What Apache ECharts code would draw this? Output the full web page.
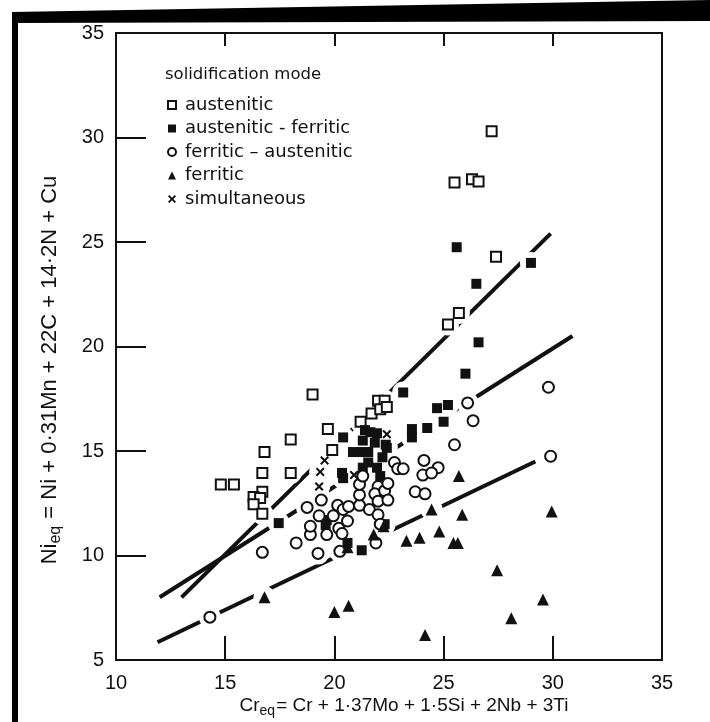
<!DOCTYPE html>
<html>
<head>
<meta charset="utf-8">
<script src="https://cdn.jsdelivr.net/npm/echarts@6/dist/echarts.min.js"></script>
<style>
  html, body { margin: 0; padding: 0; background: #fff; }
  #chart { width: 710px; height: 722px; }
</style>
</head>
<body>
<div id="chart"></div>
<script>
// Schaeffler-type constitution plot: Cr/Ni equivalents grouped by solidification mode
const xTicks = [10, 15, 20, 25, 30, 35];
const yTicks = [5, 10, 15, 20, 25, 30, 35];

const austenitic = [
  [14.8,13.4],[15.4,13.4],[16.8,14.95],[16.7,13.95],[18.0,15.55],[18.0,13.95],
  [16.7,13.05],[16.3,12.8],[16.6,12.75],[16.3,12.45],[16.7,12.0],[19.0,17.7],
  [19.7,16.05],[19.9,15.05],[21.2,16.4],[21.7,16.8],[22.0,17.4],[22.3,17.4],
  [22.1,17.0],[22.4,17.1],[27.2,30.3],[25.5,27.85],[26.3,28.0],[26.6,27.9],
  [27.4,24.3],[25.7,21.6],[25.2,21.05]
];
const austeniticFerritic = [
  [25.6,24.75],[29.0,24.0],[26.5,23.0],[26.6,20.2],[26.0,18.7],[23.15,17.8],
  [24.7,17.05],[25.2,17.2],[25.0,16.4],[24.25,16.1],[23.55,16.05],[23.55,15.65],
  [22.35,15.3],[17.45,11.55],[20.4,15.65],[21.4,16.0],[21.65,15.9],[21.95,15.85],
  [21.3,15.5],[20.85,14.95],[21.2,14.95],[21.55,14.95],[21.85,15.4],[22.4,15.15],
  [22.2,14.7],[20.35,13.95],[20.4,13.7],[21.3,14.2],[21.55,14.45],[21.95,14.2],
  [22.1,13.8],[19.65,11.7],[19.6,11.45],[20.6,10.6],[21.25,10.25],[22.3,11.5]
];
const ferriticAustenitic = [
  [14.3,7.05],[16.7,10.15],[18.25,10.6],[19.25,10.1],[18.9,11.0],[18.75,12.3],
  [18.9,11.4],[19.3,11.9],[19.4,12.65],[19.65,11.0],[19.95,11.9],[20.15,12.4],
  [20.2,11.3],[20.4,12.2],[20.65,12.35],[20.6,11.65],[20.35,11.05],[20.25,10.2],
  [21.15,12.4],[21.6,12.2],[21.15,12.9],[21.15,13.4],[21.3,13.8],[22.0,13.3],
  [21.85,12.95],[22.0,12.6],[22.3,13.1],[22.45,12.65],[22.75,14.45],[22.9,14.15],
  [24.1,14.55],[24.05,13.85],[23.7,13.05],[24.15,12.95],[22.0,11.95],[22.1,11.5],
  [21.9,10.6],[26.1,17.3],[26.35,16.45],[25.5,15.3],[29.8,18.05],[29.9,14.75],
  [24.75,14.2],[24.45,13.95],[23.15,14.15],[22.45,13.45]
];
const ferritic = [
  [16.8,8.0],[25.7,13.8],[24.45,12.2],[25.85,11.95],[24.8,11.15],[23.3,10.7],
  [23.9,10.85],[25.45,10.6],[25.65,10.6],[27.45,9.3],[29.55,7.9],[28.1,7.0],
  [24.15,6.2],[29.95,12.1],[20.0,7.3],[20.65,7.6],[20.6,10.4],[21.8,11.0],[22.25,11.4]
];
const simultaneous = [
  [19.55,14.55],[19.35,14.0],[19.3,13.3],[20.9,13.85],[22.4,15.8]
];

// Boundary lines between the modes (end points)
const boundaryUpper = [[13.0,8.0],[29.9,25.4]];
const boundaryMiddle = [[12.0,8.0],[30.9,20.5]];
const boundaryLower = [[11.9,5.85],[29.2,14.5]];

const modeNames = ['austenitic', 'austenitic - ferritic', 'ferritic – austenitic', 'ferritic', 'simultaneous'];
const legendTitle = 'solidification mode';
const xTitle = '{n|Cr}{s|eq}{n|= Cr + 1·37Mo + 1·5Si + 2Nb + 3Ti}';
const yTitle = '{n|Ni}{s|eq}{n| = Ni + 0·31Mn + 22C + 14·2N + Cu}';

const INK = '#111111';
const FONT = '"Liberation Sans", "DejaVu Sans", sans-serif';
const LEGEND_FONT = '"DejaVu Sans", "Liberation Sans", sans-serif';
const CROSS = 'path://M0,1.6L1.6,0L5,3.4L8.4,0L10,1.6L6.6,5L10,8.4L8.4,10L5,6.6L1.6,10L0,8.4L3.4,5Z';

const openStyle = { color: '#ffffff', borderColor: INK, borderWidth: 2, opacity: 1 };
const fillStyle = { color: INK, borderColor: INK, borderWidth: 0, opacity: 1 };

function boundary(data) {
  return {
    type: 'line', data: data, symbol: 'none', silent: true, z: 1,
    lineStyle: { color: INK, width: 4, cap: 'butt' }
  };
}

// white clearing behind every marker, so the boundary lines break around the points
const allPoints = [].concat(austenitic, austeniticFerritic, ferriticAustenitic, ferritic, simultaneous);

function titleRich(size, subSize) {
  return {
    n: { fontFamily: FONT, fontSize: size, fill: INK, color: INK, lineHeight: size + 6, verticalAlign: 'middle' },
    s: { fontFamily: FONT, fontSize: subSize, fill: INK, color: INK, lineHeight: size + 6, verticalAlign: 'bottom', padding: [9, 1, 0, 0] }
  };
}

const chart = echarts.init(document.getElementById('chart'), null, { renderer: 'canvas' });

chart.setOption({
  backgroundColor: '#ffffff',
  animation: false,
  textStyle: { fontFamily: FONT, color: INK },
  title: {
    text: legendTitle,
    left: 160, top: 61,
    textStyle: { fontFamily: LEGEND_FONT, fontSize: 16.5, fontWeight: 'normal', color: INK }
  },
  legend: {
    orient: 'vertical', left: 162, top: 91,
    itemWidth: 8, itemHeight: 8, itemGap: 5.5,
    textStyle: { fontFamily: LEGEND_FONT, fontSize: 18, color: INK, padding: [0, 0, 0, 4] },
    data: [
      { name: modeNames[0], icon: 'rect', itemStyle: openStyle },
      { name: modeNames[1], icon: 'rect', itemStyle: fillStyle },
      { name: modeNames[2], icon: 'circle', itemStyle: openStyle },
      { name: modeNames[3], icon: 'triangle', itemStyle: fillStyle },
      { name: modeNames[4], icon: CROSS, itemStyle: fillStyle }
    ]
  },
  grid: {
    left: 116, right: 48, top: 33, bottom: 62,
    show: true, borderColor: INK, borderWidth: 2, backgroundColor: 'transparent'
  },
  xAxis: [{
    type: 'value', min: xTicks[0], max: xTicks[xTicks.length - 1], interval: 5,
    position: 'bottom',
    axisLine: { show: false },
    axisTick: { show: true, inside: true, length: 24, lineStyle: { color: INK, width: 2 } },
    splitLine: { show: false },
    axisLabel: { fontFamily: FONT, fontSize: 20, color: INK, margin: 13 }
  }, {
    type: 'value', min: xTicks[0], max: xTicks[xTicks.length - 1], interval: 5,
    position: 'top',
    axisLine: { show: false },
    axisTick: { show: true, inside: true, length: 13, lineStyle: { color: INK, width: 2 } },
    splitLine: { show: false },
    axisLabel: { show: false }
  }],
  yAxis: [{
    type: 'value', min: yTicks[0], max: yTicks[yTicks.length - 1], interval: 5,
    axisLine: { show: false },
    axisTick: { show: true, inside: true, length: 30, lineStyle: { color: INK, width: 2 } },
    splitLine: { show: false },
    axisLabel: { fontFamily: FONT, fontSize: 20, color: INK, margin: 12 }
  }],
  series: [
    boundary(boundaryUpper),
    boundary(boundaryMiddle),
    boundary(boundaryLower),
    { name: 'clearing', type: 'scatter', data: allPoints, symbol: 'circle', symbolSize: 22,
      silent: true, z: 2, itemStyle: { color: '#ffffff', opacity: 1 } },
    { name: modeNames[0], type: 'scatter', data: austenitic, symbol: 'rect', symbolSize: 10, itemStyle: openStyle, z: 3 },
    { name: modeNames[1], type: 'scatter', data: austeniticFerritic, symbol: 'rect', symbolSize: 10, itemStyle: fillStyle, z: 3 },
    { name: modeNames[2], type: 'scatter', data: ferriticAustenitic, symbol: 'circle', symbolSize: 11, itemStyle: openStyle, z: 3 },
    { name: modeNames[3], type: 'scatter', data: ferritic, symbol: 'triangle', symbolSize: 12, itemStyle: fillStyle, z: 3 },
    { name: modeNames[4], type: 'scatter', data: simultaneous, symbol: CROSS, symbolSize: 9, itemStyle: fillStyle, z: 3 }
  ],
  graphic: [
    // axis titles
    { type: 'text', x: 404, y: 706, silent: true,
      style: { text: xTitle, rich: titleRich(19, 14), align: 'center', verticalAlign: 'middle' } },
    { type: 'text', x: 50, y: 370, rotation: Math.PI / 2, silent: true,
      style: { text: yTitle, rich: titleRich(22, 16), align: 'center', verticalAlign: 'middle' } },
    // dark scan margins along the top and left edges
    { type: 'polygon', silent: true, z: 100,
      shape: { points: [[12, 12], [710, 0], [710, 21], [12, 23]] }, style: { fill: '#000' } },
    { type: 'rect', silent: true, z: 100,
      shape: { x: 12, y: 12, width: 6, height: 710 }, style: { fill: '#000' } }
  ]
});
</script>
</body>
</html>
